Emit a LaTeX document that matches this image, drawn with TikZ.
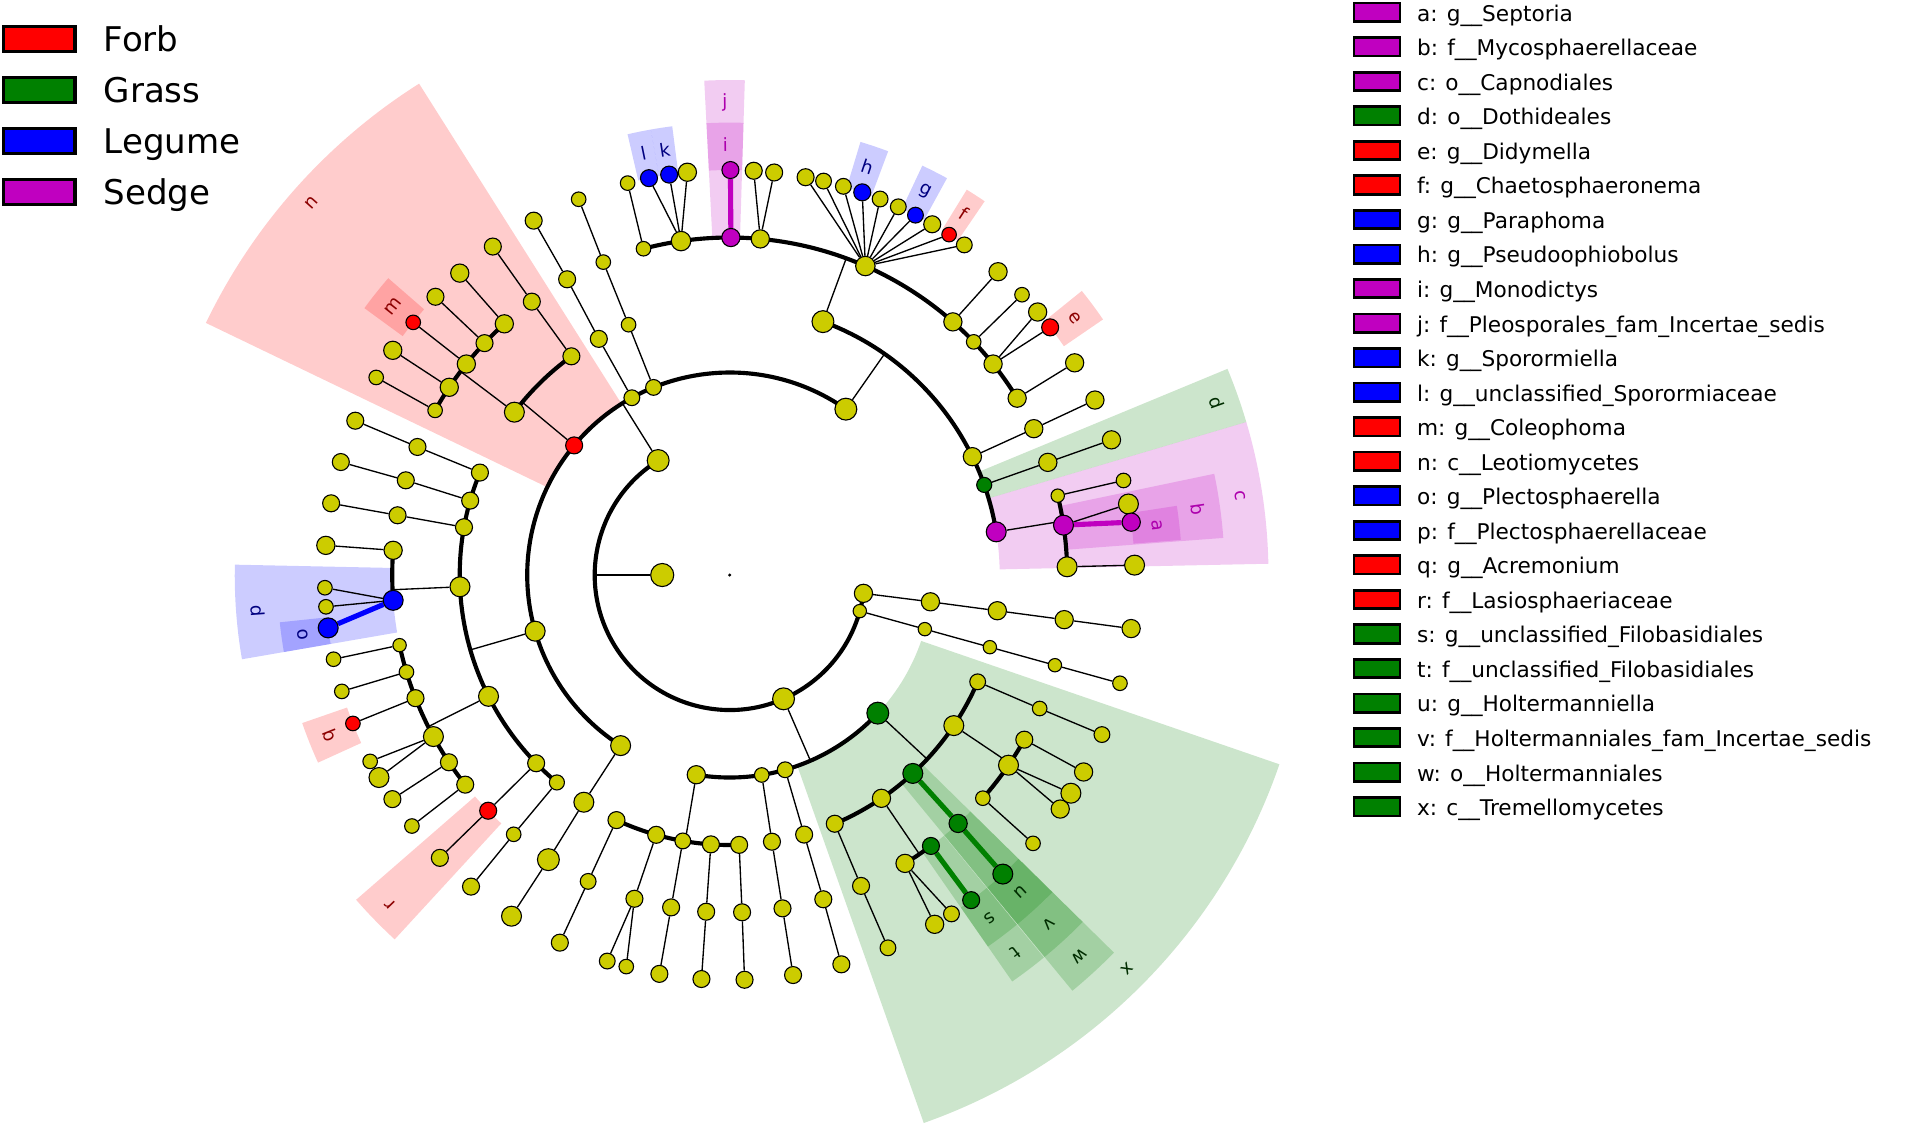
\documentclass[tikz,border=0pt]{standalone}
\usepackage{fontspec}
\setmainfont{DejaVu Sans}

\definecolor{nodeyellow}{RGB}{204,204,0}
\definecolor{forbred}{RGB}{255,0,0}
\definecolor{grassgreen}{RGB}{0,128,0}
\definecolor{legumeblue}{RGB}{0,0,255}
\definecolor{sedgepink}{RGB}{192,0,192}
\colorlet{forbredtxt}{forbred!55!black}
\colorlet{grassgreentxt}{grassgreen!35!black}
\colorlet{legumebluetxt}{legumeblue!50!black}
\colorlet{sedgepinktxt}{sedgepink!90!black}

\pgfdeclarelayer{canvas}
\pgfdeclarelayer{sectors}
\pgfdeclarelayer{edges}
\pgfsetlayers{canvas,sectors,edges,main}

\begin{document}
\begin{tikzpicture}[x=0.5pt,y=0.5pt,
    tx/.style={circle,draw=black,line width=0.45pt,fill=nodeyellow,inner sep=0pt,minimum size=#1pt},
    tx/.default=7,
    yel/.style={},
    forb/.style={fill=forbred},
    grass/.style={fill=grassgreen},
    legume/.style={fill=legumeblue},
    sedge/.style={fill=sedgepink},
    twig/.style={line width=0.55pt},
    ring/.style={line width=1.7pt},
    hit/.style={line width=2.1pt},
    cladelabel/.style={font=\fontsize{7.5}{9}\selectfont,inner sep=0pt},
    bigkey/.style={draw=black,line width=1.3pt,minimum width=29.5pt,minimum height=10.3pt,inner sep=0pt},
    smallkey/.style={draw=black,line width=1.1pt,minimum width=18.85pt,minimum height=7.55pt,inner sep=0pt},
    keytext/.style={anchor=base west,inner sep=0pt}]

  \begin{pgfonlayer}{canvas}
    \fill[white] (-600,-454.6) rectangle (968,472.8);
  \end{pgfonlayer}
  \useasboundingbox (-600,-454.6) rectangle (968,472.8);

  % shaded clades and their letters
  \foreach \lo/\hi/\rin/\rout/\col/\lab in {
      4.45/8.8/333/372/sedgepink/a, 4.3/11.8/277.5/407/sedgepink/b,
      1.2/16.5/222/443/sedgepink/c, 16.5/22.5/222/443/grassgreen/d,
      34.4/38.9/333/372/forbred/e, 55.7/58.4/333/372/forbred/f,
      61.3/64.8/333/372/legumeblue/g, 69.5/73.2/333/372/legumeblue/h,
      88.25/92.95/333/372/sedgepink/i, 88.25/92.95/277.5/407/sedgepink/j,
      97.3/100.05/333/372/legumeblue/k, 100.05/103.05/333/372/legumeblue/l,
      139/143.85/333/372/forbred/m, 122.3/154.3/166.5/478/forbred/n,
      186/189.8/333/372/legumeblue/o, 178.8/189.8/277.5/407/legumeblue/p,
      199.1/204.5/333/372/forbred/q, 221/227.4/277.5/407/forbred/r,
      304.8/309.4/333/372/grassgreen/s, 304.8/309.4/277.5/407/grassgreen/t,
      309.5/315.5/333/372/grassgreen/u, 309.5/315.5/277.5/407/grassgreen/v,
      309.5/315.5/222/443/grassgreen/w, 289.5/341/166.5/478/grassgreen/x}{
    \begin{pgfonlayer}{sectors}
      \fill[\col,opacity=0.2] (\lo:\rin) arc[start angle=\lo,end angle=\hi,radius=\rin]
        -- (\hi:\rout) arc[start angle=\hi,end angle=\lo,radius=\rout] -- cycle;
    \end{pgfonlayer}
    \node[cladelabel,text=\col txt,rotate={(\lo+\hi)/2-90}] (lab-\lab)
      at ({(\lo+\hi)/2}:{\rout-18}) {\lab};
  }

  % taxa, ring by ring
  \node[circle,fill=black,inner sep=0pt,minimum size=1.4pt] (centre) at (0,0) {};
  \node[tx=9.5] (root) at (180:55.5) {};
  \foreach \n/\a/\s in {p1/122/9, p2/293.5/9, p3/344.5/5.5, p4/352.2/7.5}
    \node[tx=\s] (\n) at (\a:111) {};
  \foreach \n/\a/\s/\k in {c1/55/9/yel, c2/112.1/6.5/yel, c3/118.9/6.5/yel, cn/140.2/7/forb,
      c5/196.1/8.2/yel, c6/237.4/8.2/yel, c7/260.5/7.5/yel, c8/279.1/6/yel,
      c9/285.9/6.5/yel, cx/317/9/grass, c10/344.5/5.5/yel, c11/352.4/7.5/yel}
    \node[tx=\s,\k] (\n) at (\a:166.5) {};
  \foreach \n/\a/\s/\k in {o1/69.8/9/yel, o2/26/7.5/yel, od/19.5/6.2/grass, oc/9.2/8.2/sedge,
      o3/112/6/yel, o4/119/7/yel, o5/125.9/7/yel, o6/142.9/8.2/yel, o7/157.7/7/yel,
      o8/164/7/yel, o9/169.8/7/yel, o10/182.5/8.2/yel, o11/206.7/8.2/yel, o12/224.2/7/yel,
      o13/230.2/6.2/yel, o14/237.3/8.2/yel, o15/245.2/7/yel, o16/254.2/7/yel, o17/260/6.5/yel,
      o18/266/7/yel, o19/272/7/yel, o20/279/7/yel, o21/286/7/yel, o22/292.9/7/yel,
      o23/304.2/7.5/yel, ow/312.7/8.2/grass, o24/326.1/8.2/yel, o25/336.7/6.5/yel,
      o26/344.5/5.5/yel, o27/352.4/7.5/yel}
    \node[tx=\s,\k] (\n) at (\a:222) {};
  \foreach \n/\a/\s/\k in {f1/104.8/6/yel, f2/98.3/8/yel, fj/89.8/7.5/sedge, f3/84.8/7.5/yel,
      f4/66.3/8/yel, f5/48.6/7.5/yel, f6/43.7/6/yel, f7/38.7/7.5/yel, f8/31.6/7.5/yel,
      f9/25.7/7.5/yel, f10/19.5/7.5/yel, f11/13.6/5.5/yel, fb/8.5/8.2/sedge, f12/1.4/8.2/yel,
      f13/112/6/yel, f14/118.8/7/yel, f15/125.9/7/yel, f16/131.9/7.5/yel, f17/136.6/7/yel,
      f18/141.3/7.5/yel, f19/146.2/7.5/yel, f20/150.8/6/yel, f21/157.7/7/yel, f22/163.7/7/yel,
      f23/169.8/7/yel, f24/175.8/7.5/yel, fp/184.3/8.2/legume, f25/192/5.5/yel, f26/196.7/6/yel,
      f27/201.4/7/yel, f28/208.6/8.2/yel, f29/213.7/7/yel, f30/218.4/7/yel, fr/224.3/7/forb,
      f31/230.2/6/yel, f32/237.5/9/yel, f33/245.2/6.5/yel, f34/253.6/7/yel, f35/260/7/yel,
      f36/266/7/yel, f37/272.1/7/yel, f38/279/7/yel, f39/286.1/7/yel, f40/292.9/7/yel,
      f41/301.3/7.5/yel, ft/306.6/7/grass, fv/312.6/7.5/grass, f42/318.6/6/yel,
      f43/325.7/8.2/yel, f44/330.8/7/yel, f45/336.7/6/yel, f46/344.5/5.5/yel, f47/352.4/7.5/yel}
    \node[tx=\s,\k] (\n) at (\a:277.5) {};
  \foreach \n/\a/\s/\k in {g1/104.6/6/yel, gl/101.5/7/legume, gk/98.6/7/legume, g2/96/7.5/yel,
      gi/89.9/7/sedge, g3/86.6/7/yel, g4/83.7/7/yel, g5/79.2/7/yel, g6/76.6/6.5/yel,
      g7/73.7/6.5/yel, gh/70.9/7/legume, g8/68.2/6.5/yel, g9/65.4/6.5/yel, gg/62.7/6.5/legume,
      g10/60/7/yel, gf/57.2/6/forb, g11/54.6/6.5/yel, g12/48.5/7.5/yel, g13/43.8/6/yel,
      g14/40.5/7.5/yel, ge/37.7/7/forb, g15/31.6/7.5/yel, g16/25.6/7.5/yel, g17/19.5/7.5/yel,
      g18/13.5/6/yel, g19/10.1/8.2/yel, ga/7.5/7.5/sedge, g20/1.4/8.2/yel, g21/111.9/6/yel,
      g22/118.95/7/yel, g23/125.8/7/yel, g24/131.8/7.5/yel, g25/136.6/7/yel, gm/141.4/6/forb,
      g26/146.3/7.5/yel, g27/150.8/6/yel, g28/157.6/7/yel, g29/163.8/7/yel, g30/169.8/7/yel,
      g31/175.8/7.5/yel, g32/181.8/6/yel, g33/184.5/6/yel, go/187.5/8.2/legume, g34/192/6/yel,
      g35/196.7/6/yel, gq/201.5/6/forb, g36/207.4/6/yel, g37/210/8.2/yel, g38/213.6/7/yel,
      g39/218.3/6/yel, g40/224.3/7/yel, g41/230.3/7/yel, g42/237.4/8.2/yel, g43/245.2/7/yel,
      g44/252.4/6.5/yel, g45/255.2/6/yel, g46/260/7/yel, g47/266/7/yel, g48/272.1/7/yel,
      g49/279/7/yel, g50/286/7/yel, g51/293/6.5/yel, g52/300.4/7.5/yel, g53/303.2/6.5/yel,
      gs/306.6/7/grass, gu/312.4/8.2/grass, g54/318.5/6/yel, g55/324.7/7.5/yel,
      g56/327.4/8.2/yel, g57/330.9/7.5/yel, g58/336.8/6.5/yel, g59/344.5/6/yel, g60/352.4/7.5/yel}
    \node[tx=\s,\k] (\n) at (\a:333) {};

  \begin{pgfonlayer}{edges}
    % sibling arcs
    \foreach \from/\a/\b/\r in {p1/122/352.2/111, c1/55/237.4/166.5, c7/260.5/317/166.5,
        oc/9.2/69.8/222, o5/125.9/142.9/222, o7/157.7/230.2/222, o15/245.2/272/222,
        o22/292.9/336.7/222, f8/31.6/104.8/277.5, f12/1.4/13.6/277.5, f16/131.9/150.8/277.5,
        f24/175.8/184.3/277.5, f25/192/218.4/277.5, f41/301.3/306.6/277.5, f42/318.6/330.8/277.5}
      \draw[ring] (\from.center) arc[start angle=\a,end angle=\b,radius=\r];
    % stems out to the arcs
    \foreach \n/\a/\r in {root/180/111, p1/122/166.5, p2/293.5/166.5, c1/55/222, cn/140.2/222,
        c5/196.1/222, c7/260.5/222, cx/317/222, o1/69.8/277.5, oc/9.2/277.5, o6/142.9/277.5,
        o10/182.5/277.5, o11/206.7/277.5, o23/304.2/277.5, o24/326.1/277.5}{
      \coordinate (\n-fork) at (\a:\r);
      \draw[twig] (\n) -- (\n-fork);
    }
    % single lines
    \foreach \a/\b in {c2/o3, o3/f13, f13/g21, c3/o4, o4/f14, f14/g22, o2/f9, f9/g16,
        od/f10, f10/g17, f11/g18, fb/g19, f12/g20, f1/g1, f2/gl, f2/gk, f2/g2, f3/g3, f3/g4,
        f4/g5, f4/g6, f4/g7, f4/gh, f4/g8, f4/g9, f4/gg, f4/g10, f4/gf, f4/g11, f5/g12,
        f6/g13, f7/g14, f7/ge, f8/g15, o5/f15, f15/g23, f16/g24, f17/g25, f18/gm, f19/g26,
        f20/g27, o7/f21, f21/g28, o8/f22, f22/g29, o9/f23, f23/g30, f24/g31, fp/g32, fp/g33,
        f25/g34, f26/g35, f27/gq, f28/g36, f28/g37, f29/g38, f30/g39, o12/fr, fr/g40,
        o13/f31, f31/g41, c6/o14, o14/f32, f32/g42, o15/f33, f33/g43, o16/f34, f34/g44,
        f34/g45, o17/f35, f35/g46, o18/f36, f36/g47, o19/f37, f37/g48, c8/o20, o20/f38,
        f38/g49, c9/o21, o21/f39, f39/g50, o22/f40, f40/g51, f41/g52, f41/g53, f42/g54,
        f43/g55, f43/g56, f44/g57, o25/f45, f45/g58, p3/c10, c10/o26, o26/f46, f46/g59,
        p4/c11, c11/o27, o27/f47, f47/g60}
      \draw[twig] (\a) -- (\b);
    % biomarker links
    \draw[hit,sedgepink] (fj) -- (gi);
    \draw[hit,sedgepink] (fb) -- (ga);
    \draw[hit,legumeblue] (fp) -- (go);
    \draw[hit,grassgreen] (ft) -- (gs);
    \draw[hit,grassgreen] (ow) -- (fv);
    \draw[hit,grassgreen] (fv) -- (gu);
  \end{pgfonlayer}

  % group key
  \foreach \lab/\col [count=\k from 0] in {Forb/forbred, Grass/grassgreen,
      Legume/legumeblue, Sedge/sedgepink}{
    \node[bigkey,fill=\col] (key-\lab) at (-567.8,{440.6-41.8*\k}) {};
    \node[keytext,font=\fontsize{14}{16}\selectfont] (entry-\lab)
      at (-515.1,{430.3-41.8*\k}) {\lab};
  }

  % clade key
  \foreach \txt/\col [count=\k from 0] in {
      a: g\_\_Septoria/sedgepink,
      b: f\_\_Mycosphaerellaceae/sedgepink,
      c: o\_\_Capnodiales/sedgepink,
      d: o\_\_Dothideales/grassgreen,
      e: g\_\_Didymella/forbred,
      f: g\_\_Chaetosphaeronema/forbred,
      g: g\_\_Paraphoma/legumeblue,
      h: g\_\_Pseudoophiobolus/legumeblue,
      i: g\_\_Monodictys/sedgepink,
      j: f\_\_Pleosporales\_fam\_Incertae\_sedis/sedgepink,
      k: g\_\_Sporormiella/legumeblue,
      l: g\_\_unclassified\_Sporormiaceae/legumeblue,
      m: g\_\_Coleophoma/forbred,
      n: c\_\_Leotiomycetes/forbred,
      o: g\_\_Plectosphaerella/legumeblue,
      p: f\_\_Plectosphaerellaceae/legumeblue,
      q: g\_\_Acremonium/forbred,
      r: f\_\_Lasiosphaeriaceae/forbred,
      s: g\_\_unclassified\_Filobasidiales/grassgreen,
      t: f\_\_unclassified\_Filobasidiales/grassgreen,
      u: g\_\_Holtermanniella/grassgreen,
      v: f\_\_Holtermanniales\_fam\_Incertae\_sedis/grassgreen,
      w: o\_\_Holtermanniales/grassgreen,
      x: c\_\_Tremellomycetes/grassgreen}{
    \node[smallkey,fill=\col] (key-\k) at (532.15,{462.7-28.4*\k}) {};
    \node[keytext,font=\fontsize{8.9}{10.5}\selectfont] (entry-\k)
      at (564.8,{455.4-28.4*\k}) {\txt};
  }
\end{tikzpicture}
\end{document}
